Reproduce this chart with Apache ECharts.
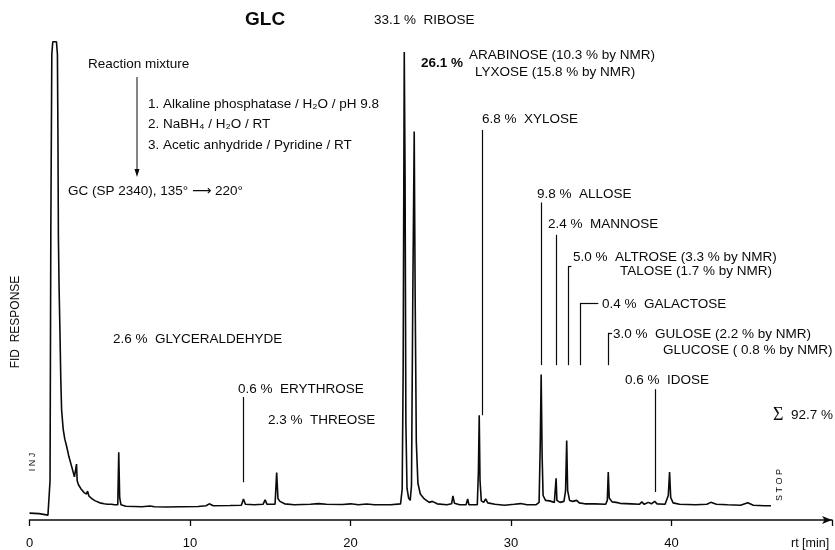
<!DOCTYPE html>
<html><head><meta charset="utf-8">
<script src="https://cdn.jsdelivr.net/npm/echarts@6/dist/echarts.min.js"></script>
<style>html,body{margin:0;padding:0;background:#fff}#c{width:835px;height:550px}</style>
</head><body><div id="c"></div>
<script>
// Chromatogram trace (retention time in min, FID response in arbitrary units)
const traceTime = [0.00,0.60,1.15,1.24,1.28,1.33,1.39,1.45,1.55,1.68,1.74,1.77,1.80,1.84,1.90,1.95,2.00,2.10,2.20,2.31,2.45,2.62,2.80,2.88,2.93,2.97,3.05,3.20,3.40,3.55,3.62,3.70,3.90,4.10,4.38,4.65,4.75,4.85,5.10,5.20,5.30,5.50,5.56,5.62,5.70,6.0,7.0,7.5,7.8,8.5,9.5,10.5,11.0,11.2,11.45,12.5,13.2,13.33,13.45,14.0,14.55,14.68,14.8,15.3,15.4,15.48,15.6,15.9,16.5,17.5,18.0,18.5,19.5,20.0,20.5,21.0,21.5,22.5,23.12,23.22,23.28,23.35,23.40,23.45,23.52,23.62,23.72,23.80,23.88,23.97,24.03,24.10,24.20,24.35,24.6,24.9,25.1,25.4,26.0,26.3,26.38,26.48,26.8,27.2,27.3,27.38,27.9,27.97,28.02,28.07,28.15,28.3,28.42,28.55,29.0,29.6,30.2,30.6,31.0,31.55,31.75,31.82,31.88,31.94,32.0,32.15,32.4,32.7,32.77,32.81,32.86,33.05,33.3,33.40,33.47,33.53,33.65,33.85,34.09,34.25,34.6,35.2,35.9,36.0,36.06,36.12,36.3,36.55,36.8,37.5,38.0,38.15,38.3,38.55,38.75,38.95,39.1,39.6,39.80,39.88,39.95,40.1,40.5,41.5,42.2,42.45,42.8,43.5,44.3,44.75,45.1,45.8,46.2];
const traceResp = [1.4,1.3,1.0,1.0,8,60,95,97.6,97.8,97.6,95,80,58,48,38,28.7,22.5,18.5,16.5,15.1,13.0,11.0,8.8,8.4,11.4,8.0,7.2,6.4,5.6,5.3,5.9,4.9,4.3,3.9,3.5,3.3,3.7,3.2,3.2,3.5,3.1,3.1,13.8,4.5,3.1,2.8,2.7,2.85,2.7,2.65,2.7,2.75,2.9,3.3,2.9,2.95,3.0,4.3,3.2,3.1,3.2,4.1,3.2,3.2,9.7,4.4,3.8,3.3,3.1,3.2,3.35,3.2,3.15,3.3,3.1,3.25,3.1,3.1,3.3,6.3,30,95.5,70,20,6.5,4.5,4.0,7,45,79.3,45,16,7.5,5.3,4.3,3.6,3.8,3.3,3.1,3.3,4.9,3.4,3.1,3.1,4.3,3.1,3.1,10,21.4,8,3.9,3.6,4.3,3.5,3.2,3.0,3.2,3.35,3.1,3.1,3.6,15,29.7,13,5,4.0,3.9,3.6,4,8.5,4.0,3.6,3.8,6,16.2,6,4.0,3.8,4.0,3.5,3.3,3.3,3.2,4,9.8,4.5,3.7,3.6,3.4,3.3,3.2,3.7,3.2,3.6,3.3,3.8,3.3,3.2,5,9.8,4.6,3.5,3.2,3.1,3.2,3.6,3.2,3.1,3.0,3.5,3.0,2.9,2.9];
// Peak marker lines: time, top, bottom
const markTime   = [13.34, 28.22, 31.88, 32.81, 33.57, 34.32, 36.06, 39.0];
const markTop    = [25.1, 79.6, 64.8, 58.2, 51.8, 44.3, 38.2, 26.7];
const markBottom = [7.7, 21.4, 31.6, 31.6, 31.6, 31.6, 31.6, 5.7];
// Hooks on marker tops: from time, to time, level
const hookFrom = [33.57, 34.32, 36.06];
const hookTo   = [33.76, 35.44, 36.30];
const hookLvl  = [51.8, 44.3, 38.2];
const xTicks = [0, 10, 20, 30, 40];

const chart = echarts.init(document.getElementById('c'), null, {renderer: 'canvas'});
const F = '"Liberation Sans", Arial, "DejaVu Sans", sans-serif';
const ink = '#0a0a0a';

const markData = [];
markTime.forEach((t, i) => markData.push([{coord: [t, markTop[i]]}, {coord: [t, markBottom[i]]}]));
hookFrom.forEach((t, i) => markData.push([{coord: [t, hookLvl[i]]}, {coord: [hookTo[i], hookLvl[i]]}]));

function txt(x, y, s, opt) {
  return Object.assign({type: 'text', x: x, y: y, style: Object.assign({text: s, fill: ink, font: '13.5px ' + F, textVerticalAlign: 'middle'}, opt || {})});
}

chart.setOption({
  animation: false,
  backgroundColor: '#fff',
  grid: {left: 29.5, right: 0.5, top: 30, bottom: 29},
  xAxis: {
    type: 'value', min: 0, max: 50, interval: 10,
    axisLine: {show: true, symbol: ['none', 'arrow'], symbolSize: [6, 10], lineStyle: {color: ink, width: 1.5}},
    axisTick: {show: true, length: 6, lineStyle: {color: ink, width: 1.3}},
    axisLabel: {color: ink, fontSize: 13, fontFamily: F, margin: 17,
      formatter: v => xTicks.indexOf(v) >= 0 ? String(v) : ''},
    splitLine: {show: false}
  },
  yAxis: {type: 'value', min: 0, max: 100, show: false},
  series: [{
    type: 'line',
    data: traceTime.map((t, i) => [t, traceResp[i]]),
    symbol: 'none',
    lineStyle: {color: ink, width: 1.6},
    markLine: {
      silent: true, symbol: 'none', animation: false,
      label: {show: false},
      lineStyle: {color: ink, width: 1.2, type: 'solid'},
      data: markData
    }
  }],
  graphic: [
    txt(245, 20, 'GLC', {font: 'bold 19px ' + F}),
    txt(88, 64, 'Reaction mixture'),
    {type: 'line', shape: {x1: 137, y1: 77, x2: 137, y2: 172}, style: {stroke: ink, lineWidth: 1}},
    {type: 'polygon', shape: {points: [[134.5, 169], [139.5, 169], [137, 177]]}, style: {fill: ink}},
    txt(148, 104, '1. Alkaline phosphatase / H\u2082O / pH 9.8'),
    txt(148, 124, '2. NaBH\u2084 / H\u2082O / RT'),
    txt(148, 145, '3. Acetic anhydride / Pyridine / RT'),
    txt(68, 191, 'GC (SP 2340), 135\u00B0 \u27F6 220\u00B0'),
    txt(374, 20, '33.1 %  RIBOSE'),
    txt(421, 63, '26.1 %', {font: 'bold 13.5px ' + F}),
    txt(469, 55, 'ARABINOSE (10.3 % by NMR)'),
    txt(475, 72, 'LYXOSE (15.8 % by NMR)'),
    txt(482, 119, '6.8 %  XYLOSE'),
    txt(537, 194, '9.8 %  ALLOSE'),
    txt(548, 224, '2.4 %  MANNOSE'),
    txt(573, 257, '5.0 %  ALTROSE (3.3 % by NMR)'),
    txt(620, 271, 'TALOSE (1.7 % by NMR)'),
    txt(602, 304, '0.4 %  GALACTOSE'),
    txt(613, 334, '3.0 %  GULOSE (2.2 % by NMR)'),
    txt(663, 350, 'GLUCOSE ( 0.8 % by NMR)'),
    txt(625, 380, '0.6 %  IDOSE'),
    txt(113, 339, '2.6 %  GLYCERALDEHYDE'),
    txt(238, 389, '0.6 %  ERYTHROSE'),
    txt(268, 420, '2.3 %  THREOSE'),
    {type: 'text', x: 773, y: 415, style: {text: '{s|\u03A3}  92.7 %', fill: ink, font: '13.5px ' + F, textVerticalAlign: 'middle',
      rich: {s: {fontFamily: '"Liberation Serif", "DejaVu Serif", serif', fontSize: 18, fill: ink}}}},
    {type: 'text', x: 16, y: 322, rotation: Math.PI / 2, style: {text: 'FID  RESPONSE', fill: ink, font: '12px ' + F, textAlign: 'center', textVerticalAlign: 'middle'}},
    {type: 'text', x: 33, y: 462, rotation: Math.PI / 2, style: {text: 'I N J', fill: ink, font: '9px ' + F, textAlign: 'center', textVerticalAlign: 'middle'}},
    {type: 'text', x: 780, y: 485, rotation: Math.PI / 2, style: {text: 'S T O P', fill: ink, font: '9px ' + F, textAlign: 'center', textVerticalAlign: 'middle'}},
    txt(791, 544, 'rt [min]', {font: '12.5px ' + F})
  ]
});
</script></body></html>
